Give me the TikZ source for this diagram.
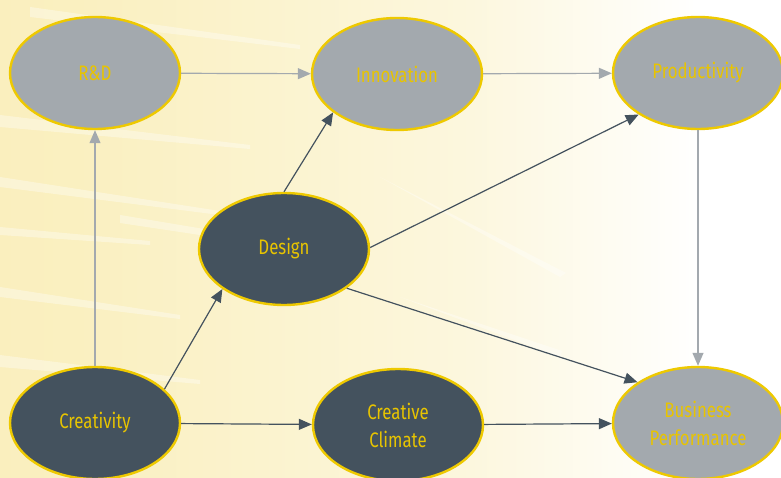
\documentclass[tikz,border=0pt]{standalone}
\usepackage{fontspec}
\setmainfont{Fira Sans}[FakeStretch=0.8]
\usetikzlibrary{arrows.meta,shapes.geometric}
\definecolor{gfill}{HTML}{A3A9AE}
\definecolor{dfill}{HTML}{44525E}
\definecolor{ybord}{HTML}{EEC900}
\definecolor{ytext}{HTML}{E8C400}
\definecolor{cream}{HTML}{F9EDB5}
\definecolor{gline}{HTML}{A3A9AE}
\pgfdeclarehorizontalshading{bgshade}{100bp}{color(0bp)=(cream); color(30bp)=(cream!85); color(55bp)=(cream!45); color(70bp)=(white); color(100bp)=(white)}
\begin{document}
\begin{tikzpicture}[x=1pt,y=1pt,
  oval/.style={ellipse, draw=ybord, line width=2.4pt, minimum width=170pt, minimum height=112pt, inner sep=0pt, text=ytext, font=\fontsize{21}{28}\selectfont, align=center},
  lightoval/.style={oval, fill=gfill},
  darkoval/.style={oval, fill=dfill},
  garrow/.style={draw=gline, line width=1.2pt, -{Triangle[length=13pt,width=11pt]}},
  darrow/.style={draw=dfill, line width=1.2pt, -{Triangle[length=13pt,width=11pt]}},
  streak/.style={fill=white, opacity=0.35}]
\useasboundingbox (0,0) rectangle (781,477);
\shade[shading=bgshade] (0,0) rectangle (781,477);
% streaks
\fill[streak] (0,362) -- (250,332) -- (250,328) -- (0,350) -- cycle;
\fill[streak] (0,300) -- (220,266) -- (220,262) -- (0,290) -- cycle;
\fill[streak] (0,190) -- (180,162) -- (180,158) -- (0,180) -- cycle;
\fill[streak] (0,122) -- (200,97) -- (200,93) -- (0,110) -- cycle;
\fill[streak] (30,470) -- (300,432) -- (300,428) -- (30,460) -- cycle;
\fill[streak] (380,300) -- (560,200) -- (566,204) -- cycle;
\fill[streak] (400,180) -- (560,120) -- (562,126) -- cycle;
\fill[streak] (120,262) -- (360,222) -- (360,218) -- (120,254) -- cycle;
\fill[streak] (0,250) -- (150,236) -- (150,232) -- (0,242) -- cycle;
% nodes
\node[lightoval] (rd) at (95,404) {R\&D};
\node[lightoval] (innov) at (397,403) {Innovation};
\node[lightoval] (prod) at (698,404) {Productivity};
\node[darkoval] (design) at (284,228) {Design};
\node[darkoval] (creat) at (95,54) {Creativity};
\node[darkoval] (clim) at (398,52) {Creative\\Climate};
\node[lightoval] (bp) at (698,54) {Business\\Performance};
% connectors
\draw[garrow] (rd) -- (innov);
\draw[garrow] (innov) -- (prod);
\draw[garrow] (prod) -- (bp);
\draw[garrow] (creat) -- (rd);
\draw[darrow] (creat.26) -- (design.213);
\draw[darrow] (design.90) -- (innov.211);
\draw[darrow] (design.1) -- (prod.215);
\draw[darrow] (design.328) -- (bp.146);
\draw[darrow] (creat) -- (clim);
\draw[darrow] (clim) -- (bp);
\end{tikzpicture}
\end{document}
